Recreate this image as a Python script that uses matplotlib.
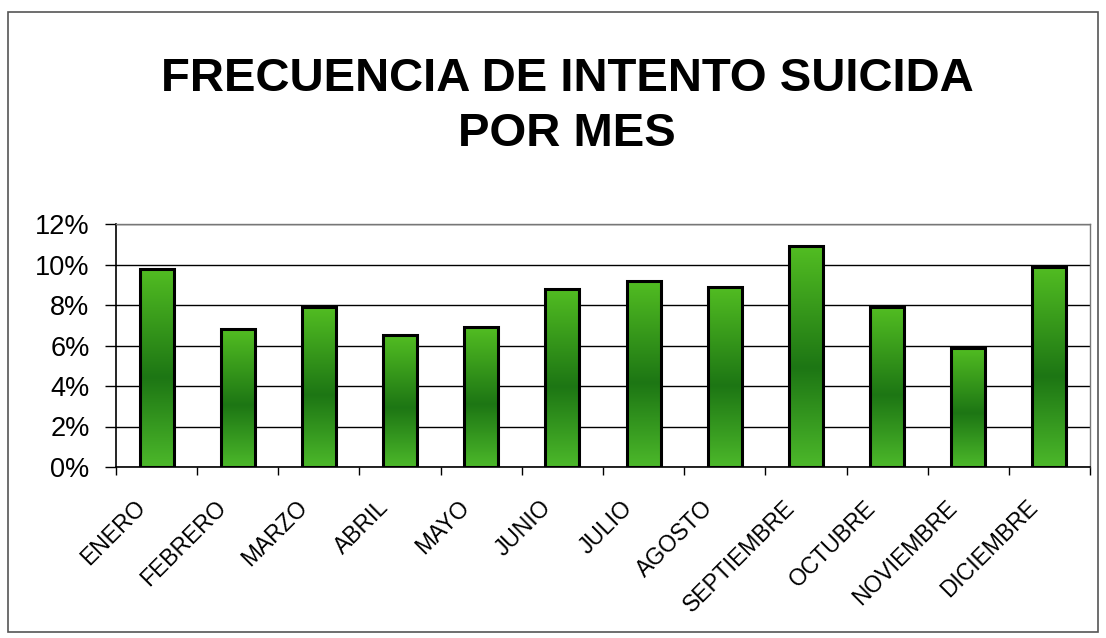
import numpy as np
import matplotlib
matplotlib.use("Agg")
import matplotlib.pyplot as plt
from matplotlib import font_manager
from matplotlib.colors import LinearSegmentedColormap
from matplotlib.patches import Rectangle
from matplotlib.transforms import ScaledTranslation
from matplotlib.ticker import FuncFormatter

plt.rcParams['font.family'] = ['Liberation Sans', 'DejaVu Sans']

months = ["ENERO", "FEBRERO", "MARZO", "ABRIL", "MAYO", "JUNIO", "JULIO",
          "AGOSTO", "SEPTIEMBRE", "OCTUBRE", "NOVIEMBRE", "DICIEMBRE"]
values = [9.8, 6.8, 7.9, 6.5, 6.9, 8.8, 9.2, 8.9, 10.9, 7.9, 5.9, 9.9]  # percent
yticks = [0, 2, 4, 6, 8, 10, 12]
title_lines = ["FRECUENCIA DE INTENTO SUICIDA", "POR MES"]

W, H = 1106, 638
fig = plt.figure(figsize=(W / 100, H / 100), dpi=100)
fig.patch.set_facecolor("white")

# outer border
fig.patches.append(Rectangle((8 / W, 6 / H), 1090 / W, 620 / H, transform=fig.transFigure,
                             fill=False, edgecolor="#555555", lw=1.2))

names = {f.name for f in font_manager.fontManager.ttflist}
if "Liberation Sans Narrow" in names:
    tfam, tsize = ["Liberation Sans Narrow", "Liberation Sans"], 41
else:
    tfam, tsize = ["Liberation Sans", "DejaVu Sans"], 34
for line, base in zip(title_lines, [91, 146]):
    fig.text(567 / W, 1 - base / H, line, ha="center", va="baseline", fontsize=tsize,
             fontweight="bold", family=tfam)

ax = fig.add_axes([116 / W, 1 - 467 / H, (1090 - 116) / W, (467 - 224) / H])
x = np.arange(len(months))
bars = ax.bar(x, values, width=0.42, facecolor="none", edgecolor="black", lw=2.2, zorder=3)

cmap = LinearSegmentedColormap.from_list(
    "g", [(0.0, "#4cb82a"), (0.45, "#1d7614"), (1.0, "#52bd22")])
grad = np.linspace(0, 1, 256).reshape(-1, 1)
for b in bars:
    x0, w, h = b.get_x(), b.get_width(), b.get_height()
    im = ax.imshow(grad, extent=[x0, x0 + w, 0, h], origin="lower", aspect="auto",
                   cmap=cmap, zorder=2, interpolation="bicubic")
    im.set_clip_path(b)

ax.set_xlim(-0.5, len(months) - 0.5)
ax.set_ylim(0, 12)
ax.set_yticks(yticks)
ax.yaxis.set_major_formatter(FuncFormatter(lambda v, p: f"{int(v)}%"))
ax.tick_params(axis="y", labelsize=19.5, length=8, width=1, direction="out", pad=11)
ax.grid(axis="y", color="black", lw=1)
ax.set_axisbelow(True)

ax.set_xticks(np.arange(-0.5, len(months), 1.0))
ax.set_xticklabels([])
ax.tick_params(axis="x", length=6, width=1, direction="out")
for i, m in enumerate(months):
    ax.text(i, 0, m, transform=ax.get_xaxis_transform() + ScaledTranslation(-23 / 100, -29 / 100, fig.dpi_scale_trans),
            rotation=45, ha="right", va="top", rotation_mode="anchor", fontsize=16.5)

for s in ["left", "bottom"]:
    ax.spines[s].set_color("black")
    ax.spines[s].set_linewidth(1.2)
for s in ["top", "right"]:
    ax.spines[s].set_color("#777777")
    ax.spines[s].set_linewidth(1)

fig.savefig("out.png", dpi=100)
